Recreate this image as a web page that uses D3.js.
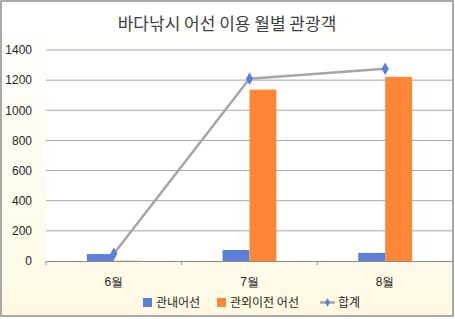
<!DOCTYPE html>
<html>
<head>
<meta charset="utf-8">
<script src="https://cdn.jsdelivr.net/npm/d3@7"></script>
<style>
  body { margin: 0; }
  svg { display: block; font-family: "Noto Sans CJK KR", "Noto Sans", sans-serif; }
</style>
</head>
<body>
<svg id="chart"></svg>
<script>
var months = ["6월", "7월", "8월"];
var seriesNames = ["관내어선", "관외이전 어선"];
var inner = [46, 73, 54];      // 관내어선
var outer = [2, 1137, 1222];   // 관외이전 어선
var total = [48, 1210, 1276];  // 합계
var yTicks = [0, 200, 400, 600, 800, 1000, 1200, 1400];

var w = 455, h = 319;
var margin = { top: 38, right: 2, bottom: 58, left: 46 };
var colors = ["#5b7fd9", "#fd8737"];

var svg = d3.select("#chart").attr("width", w).attr("height", h);

// background gradient: white at top, cream at the bottom
var grad = svg.append("defs").append("linearGradient")
    .attr("id", "bg").attr("x1", 0).attr("y1", 0).attr("x2", 0).attr("y2", 1);
grad.append("stop").attr("offset", "0%").attr("stop-color", "#ffffff");
grad.append("stop").attr("offset", "100%").attr("stop-color", "#fff9e3");

svg.append("rect")
    .attr("x", 1).attr("y", 1).attr("width", w - 3).attr("height", h - 4)
    .attr("fill", "url(#bg)")
    .attr("stroke", "#8c8c8c").attr("stroke-width", 1.5);

var x0 = d3.scaleBand().domain(months)
    .range([margin.left, w - margin.right]).padding(0);
var x1 = d3.scaleBand().domain(seriesNames)
    .range([0, x0.bandwidth()]).paddingOuter(1.52).paddingInner(0);
var y = d3.scaleLinear().domain([0, 1400])
    .range([h - margin.bottom, 50]);

// plot area
svg.append("rect")
    .attr("x", margin.left).attr("y", margin.top)
    .attr("width", w - margin.right - margin.left - 1)
    .attr("height", y(0) - margin.top)
    .attr("fill", "#ffffff");

// gridlines
svg.append("g").selectAll("line")
    .data(yTicks.filter(function (d) { return d > 0; }))
    .enter().append("line")
    .attr("x1", margin.left).attr("x2", w - 2)
    .attr("y1", function (d) { return y(d); })
    .attr("y2", function (d) { return y(d); })
    .attr("stroke", "#a6a6a6").attr("stroke-width", 1);

// y axis labels
var yAxis = d3.axisLeft(y).tickValues(yTicks).tickFormat(d3.format("d")).tickSize(0).tickPadding(14);
var gy = svg.append("g").attr("transform", "translate(" + margin.left + ",0)").call(yAxis);
gy.select(".domain").remove();
gy.selectAll("text").attr("font-size", 12).attr("fill", "#262626")
    .attr("font-family", "Liberation Sans, Arial, sans-serif");

// bars
var barData = months.map(function (m, i) {
    return [{ key: seriesNames[0], month: m, value: inner[i] },
            { key: seriesNames[1], month: m, value: outer[i] }];
});
svg.append("g").selectAll("g")
    .data(barData).enter().append("g")
    .attr("transform", function (d, i) { return "translate(" + x0(months[i]) + ",0)"; })
    .selectAll("rect")
    .data(function (d) { return d; })
    .enter().append("rect")
    .attr("x", function (d) { return x1(d.key); })
    .attr("width", x1.bandwidth())
    .attr("y", function (d) { return y(d.value); })
    .attr("height", function (d) { return y(0) - y(d.value); })
    .attr("fill", function (d, i) { return colors[i]; });

// x axis
var xAxis = d3.axisBottom(x0).tickSize(0).tickPadding(16);
var gx = svg.append("g").attr("transform", "translate(0," + y(0) + ")").call(xAxis);
gx.select(".domain").attr("stroke", "#8c8c8c");
gx.selectAll("text").attr("font-size", 12).attr("fill", "#262626");
gx.selectAll(".sep")
    .data([margin.left, x0(months[1]), x0(months[2])])
    .enter().append("line")
    .attr("x1", function (d) { return d; }).attr("x2", function (d) { return d; })
    .attr("y1", 0).attr("y2", 4)
    .attr("stroke", "#8c8c8c");

// total line
var line = d3.line()
    .x(function (d, i) { return x0(months[i]) + x0.bandwidth() / 2; })
    .y(function (d) { return y(d); });
svg.append("path").datum(total)
    .attr("d", line)
    .attr("fill", "none").attr("stroke", "#a6a6a6").attr("stroke-width", 2.5);

var diamond = d3.symbol().type(d3.symbolDiamond).size(45);
svg.append("g").selectAll("path")
    .data(total).enter().append("path")
    .attr("d", diamond)
    .attr("transform", function (d, i) {
        return "translate(" + (x0(months[i]) + x0.bandwidth() / 2) + "," + y(d) + ")";
    })
    .attr("fill", "#5b7fd9");

// title
svg.append("text")
    .attr("x", 227).attr("y", 30)
    .attr("text-anchor", "middle")
    .attr("font-size", 17).attr("fill", "#404040")
    .text("바다낚시 어선 이용 월별 관광객");

// legend
var legend = svg.append("g").attr("font-size", 12).attr("fill", "#262626");
legend.append("rect").attr("x", 143).attr("y", 298).attr("width", 9).attr("height", 9).attr("fill", colors[0]);
legend.append("text").attr("x", 156).attr("y", 307).text(seriesNames[0]);
legend.append("rect").attr("x", 217).attr("y", 298).attr("width", 9).attr("height", 9).attr("fill", colors[1]);
legend.append("text").attr("x", 230).attr("y", 307).text(seriesNames[1]);
legend.append("line").attr("x1", 320).attr("x2", 335).attr("y1", 302.5).attr("y2", 302.5)
    .attr("stroke", "#a6a6a6").attr("stroke-width", 2.5);
legend.append("path").attr("d", d3.symbol().type(d3.symbolDiamond).size(22))
    .attr("transform", "translate(327.5,302.5)").attr("fill", "#5b7fd9");
legend.append("text").attr("x", 338).attr("y", 307).text("합계");
</script>
</body>
</html>
